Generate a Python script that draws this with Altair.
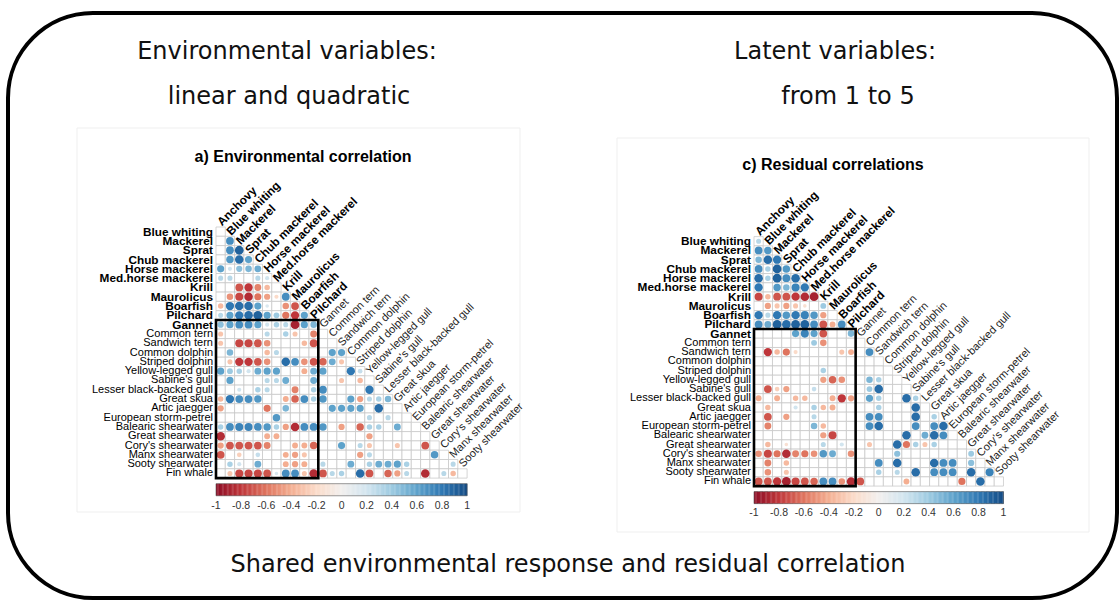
import altair as alt
import pandas as pd

# Species in matrix order; the first 11 are fish / krill (prey), the rest predators
species = [
    "Anchovy", "Blue whiting", "Mackerel", "Sprat", "Chub mackerel",
    "Horse mackerel", "Med.horse mackerel", "Krill", "Maurolicus", "Boarfish",
    "Pilchard", "Gannet", "Common tern", "Sandwich tern", "Common dolphin",
    "Striped dolphin", "Yellow-legged gull", "Sabine's gull",
    "Lesser black-backed gull", "Great skua", "Artic jaegger",
    "European storm-petrel", "Balearic shearwater", "Great shearwater",
    "Cory's shearwater", "Manx shearwater", "Sooty shearwater", "Fin whale",
]
n_prey = 11

# Lower triangle (no diagonal): row r is species[r + 1] against species[0..r]
env_corr = [
    [0],
    [0, 0.7],
    [0, 0.7, 0.9],
    [0, 0.65, 0.85, 0.6],
    [0.6, 0.2, 0.45, 0.5, 0.55],
    [0.3, 0.3, 0, 0, 0.3, 0.2],
    [0, 0, -0.7, -0.8, -0.55, -0.35, 0],
    [0, -0.5, -0.75, -0.85, -0.6, -0.45, -0.2, 0.7],
    [-0.35, 0.8, 0.85, 0.85, 0.6, 0.15, 0, -0.5, -0.7],
    [0.3, 0.6, 0.8, 0.85, 0.9, 0.6, 0.4, -0.6, -0.8, 0.6],
    [0.45, 0.6, 0.7, 0.7, 0.6, 0.2, 0.35, 0.3, -0.9, 0.6, 0.5],
    [-0.3, 0, 0, 0, 0, 0.3, 0, 0.35, -0.3, 0, -0.55, 0],
    [-0.3, 0, -0.75, -0.75, -0.7, -0.5, 0, 0, 0, -0.35, -0.7, 0, 0],
    [0, 0.5, 0, 0, 0, -0.35, 0.3, 0, 0, 0, 0, 0, 0.6, 0.6],
    [0, -0.3, -0.8, -0.8, -0.7, -0.5, 0, 0.85, 0.7, -0.5, -0.7, -0.65, 0.55, -0.3, 0],
    [0.6, 0.4, 0.35, 0.2, 0.55, 0.6, 0.6, 0, 0, -0.4, 0.55, 0.6, 0, 0, 0.8, 0.25],
    [0, 0.6, 0, 0, 0, 0.3, 0.3, 0.55, 0, 0, 0.55, 0, 0, -0.3, 0, -0.35, 0],
    [0, 0, 0.2, 0, 0.35, 0.3, 0, 0, -0.55, 0, 0.35, 0.7, 0, 0, 0, 0, 0.8, 0],
    [-0.35, 0.8, 0.7, 0.7, 0.65, 0, 0, -0.4, -0.65, 0.7, 0.35, 0.65, 0, 0, 0.6, -0.45, 0.3, 0.35, 0.5],
    [-0.45, 0, 0, 0, 0, -0.6, 0, 0.5, 0, 0, 0, 0, 0.6, 0.6, 0.6, 0.6, 0, 0.85, 0, 0],
    [0, 0, 0, 0, 0, 0, 0.65, 0, 0, 0, 0, 0, 0, 0, 0, 0, 0.3, 0, 0.3, 0, 0],
    [0.35, 0.7, 0.75, 0.75, 0.7, 0.65, 0.35, -0.45, -0.85, 0.7, 0.7, 0.65, 0, -0.45, 0, -0.65, 0.35, 0.35, 0, 0.55, 0, 0],
    [-0.85, 0, 0, 0, 0, -0.4, -0.4, 0, 0, 0, 0, 0, 0, 0, 0, 0, -0.45, 0, 0, 0, 0, 0, 0],
    [-0.45, -0.7, -0.7, -0.7, -0.7, -0.55, 0, 0, -0.4, -0.4, -0.65, 0, 0, 0.6, 0, 0.3, -0.3, 0, 0, -0.3, 0, 0, -0.7, 0],
    [-0.7, 0, -0.25, 0, 0.25, 0, 0, -0.4, -0.45, -0.3, 0, 0, 0, 0, 0, -0.45, 0.3, 0, 0, 0, 0, 0, 0, 0.65, 0],
    [0, 0.35, 0.2, 0, 0.55, 0, 0, -0.4, -0.45, -0.4, 0, 0.3, 0, 0, 0.55, 0, 0.35, 0.55, 0.55, 0.6, 0.35, 0, 0, 0, 0, 0.3],
    [0, -0.3, -0.75, -0.75, -0.75, -0.7, 0.15, 0.7, 0.7, -0.3, -0.85, -0.7, 0.3, 0.35, 0, 0.85, -0.7, 0, -0.65, -0.45, 0.3, 0, -0.85, 0, 0.3, -0.35, 0],
]

res_corr = [
    [0.3],
    [0.7, 0.65],
    [0.5, 0.85, 0.8],
    [0.7, 0.35, 0.9, 0.65],
    [0.85, 0.35, 0.9, 0.7, 0.85],
    [0.8, 0, 0.65, 0.5, 0.75, 0.8],
    [-0.75, -0.35, -0.7, -0.7, -0.8, -0.85, -0.9],
    [0, -0.45, -0.3, -0.45, -0.3, -0.15, 0, 0.4],
    [0.8, 0.3, 0.8, 0.65, 0.8, 0.75, 0.65, -0.45, 0],
    [0.7, 0.55, 0.9, 0.85, 0.9, 0.9, 0.7, -0.7, -0.4, 0.7],
    [0, 0, 0, 0, 0.6, 0.75, 0.6, -0.7, 0, 0, 0.5],
    [0, 0, 0, 0, 0, 0, 0.4, -0.5, 0, 0, 0, 0],
    [0, -0.8, -0.35, -0.6, -0.2, 0, 0, 0, 0, -0.3, -0.4, 0, 0.7],
    [0, 0, 0, 0, 0, 0, 0, 0, 0, 0, 0, 0, 0, 0],
    [0, 0, 0, 0, 0, 0, 0, 0.35, 0, 0, 0, 0, 0, 0, 0],
    [0, 0, 0, 0, 0, 0, 0, -0.45, -0.65, -0.5, 0, 0, 0.5, 0.35, 0, 0],
    [0, -0.7, -0.25, -0.45, 0, 0, 0.25, 0, 0, 0, 0, 0, 0.4, 0.85, 0, 0, 0],
    [-0.4, 0, -0.4, 0, -0.35, -0.35, 0, 0, -0.4, -0.8, -0.45, 0, 0.6, 0.35, 0, 0, 0.85, 0.35],
    [0, -0.35, 0, 0, 0.2, 0, 0.35, -0.35, -0.4, 0, 0, 0, 0, 0.35, 0, 0, 0, 0.85, 0],
    [0, -0.7, 0, -0.45, 0, 0, 0.3, 0, 0, 0, 0, 0, 0.7, 0.7, 0, 0, 0, 0.85, 0, 0.35],
    [0, -0.55, 0, 0, 0, 0, 0.5, -0.35, 0, 0, 0, 0, 0.7, 0.85, 0, 0, 0, 0.7, 0, 0.7, 0.85],
    [0, 0, 0, 0, 0, 0, 0, -0.45, -0.75, 0, 0, 0, 0, 0, 0, 0, 0.85, 0, 0.55, 0.85, 0.7, 0],
    [0, -0.35, 0, -0.15, 0, 0, 0, 0.3, 0, 0.2, 0, 0, -0.3, 0, 0, 0.85, -0.6, 0.35, -0.3, 0.35, 0, 0, 0],
    [-0.5, -0.75, -0.6, -0.85, -0.55, -0.6, -0.5, 0.65, 0.55, 0, -0.5, 0, 0, 0, 0, 0.45, 0, 0, 0, 0, 0, 0, 0, 0.4],
    [0, -0.55, 0, -0.35, 0, 0, 0, 0, 0, 0, 0, 0, 0, 0.7, 0, 0.85, 0, 0, 0, 0.85, 0.7, 0.7, 0, 0.45, 0],
    [0, -0.5, 0, -0.3, 0, 0, 0, 0, 0, 0, 0, 0, 0, 0.35, 0, 0.3, 0, 0.85, 0, 0.7, 0.7, 0.7, 0, 0.85, 0, 0.75],
    [-0.7, -0.7, -0.8, -0.9, -0.75, -0.7, -0.65, 0.7, 0.7, -0.5, -0.85, -0.7, 0, 0, 0, 0, -0.4, 0, 0, 0, 0, 0, -0.6, 0, 0.85, 0, 0],
]

legend_ticks = [-1, -0.8, -0.6, -0.4, -0.2, 0, 0.2, 0.4, 0.6, 0.8, 1]
legend_labels = ["-1", "-0.8", "-0.6", "-0.4", "-0.2", "0", "0.2", "0.4", "0.6", "0.8", "1"]

LABEL_FONT = "Liberation Sans"
HEAD_FONT = "DejaVu Sans"
N = len(species) - 1
color_scale = alt.Scale(scheme="redblue", domain=[-1, 1])


def corr_panel(rows, x0, y0, cell):
    xs = alt.Scale(domain=[0, N], range=[x0, x0 + N * cell], nice=False, zero=False)
    ys = alt.Scale(domain=[0, N], range=[y0, y0 + N * cell], nice=False, zero=False)

    def X(f):
        return alt.X(f, type="quantitative", scale=xs, axis=None)

    def Y(f):
        return alt.Y(f, type="quantitative", scale=ys, axis=None)

    recs = []
    for r, vals in enumerate(rows):
        for c, v in enumerate(vals):
            recs.append({"row": r, "col": c, "r": v, "a": abs(v),
                         "x": c, "x2": c + 1, "y": r, "y2": r + 1,
                         "cx": c + 0.5, "cy": r + 0.5})
    cells = pd.DataFrame(recs)

    grid = alt.Chart(cells).mark_rect(
        fill="white", stroke="#c4c4c4", strokeWidth=0.7
    ).encode(x=X("x"), x2="x2", y=Y("y"), y2="y2")

    circles = alt.Chart(cells[cells["r"] != 0]).mark_circle(opacity=1).encode(
        x=X("cx"), y=Y("cy"),
        size=alt.Size("a:Q", scale=alt.Scale(domain=[0, 1], range=[0, 86]), legend=None),
        color=alt.Color("r:Q", scale=color_scale, legend=None),
    )

    # prey columns against predator rows
    block = pd.DataFrame([{"x": 0, "x2": n_prey, "y": n_prey - 1, "y2": N}])
    frame = alt.Chart(block).mark_rect(
        fillOpacity=0, stroke="black", strokeWidth=2.6
    ).encode(x=X("x"), x2="x2", y=Y("y"), y2="y2")

    row_lab = pd.DataFrame([{"name": species[r + 1], "y": r + 0.5, "x": 0,
                             "bold": (r + 1) <= n_prey} for r in range(N)])
    col_lab = pd.DataFrame([{"name": species[c], "x": c + 0.5, "y": c - 0.5,
                             "bold": c < n_prey} for c in range(N)])

    def row_text(bold):
        return alt.Chart(row_lab[row_lab["bold"] == bold]).mark_text(
            align="right", baseline="middle", dx=-3, font=LABEL_FONT,
            fontSize=11.8 if bold else 11, fontWeight="bold" if bold else "normal",
            color="black"
        ).encode(x=X("x"), y=Y("y"), text="name:N")

    def col_text(bold):
        return alt.Chart(col_lab[col_lab["bold"] == bold]).mark_text(
            align="left", baseline="middle", angle=315, dx=-2, font=LABEL_FONT,
            fontSize=11.8 if bold else 11, fontWeight="bold" if bold else "normal",
            color="black" if bold else "#222222"
        ).encode(x=X("x"), y=Y("y"), text="name:N")

    # colour key under the matrix
    steps = [i / 100 - 1 for i in range(200)]
    bar = pd.DataFrame([{"v": v + 0.005, "x": (v + 1) / 2 * N,
                         "x2": (v + 1.012) / 2 * N, "y": 27.6, "y2": 28.9}
                        for v in steps])
    key = alt.Chart(bar).mark_rect().encode(
        x=X("x"), x2="x2", y=Y("y"), y2="y2",
        color=alt.Color("v:Q", scale=color_scale, legend=None),
    )
    key_box = alt.Chart(pd.DataFrame([{"x": 0, "x2": N, "y": 27.6, "y2": 28.9}])).mark_rect(
        fillOpacity=0, stroke="#555555", strokeWidth=0.6
    ).encode(x=X("x"), x2="x2", y=Y("y"), y2="y2")
    ticks = pd.DataFrame({"t": legend_ticks, "lab": legend_labels})
    ticks["x"] = (ticks["t"] + 1) / 2 * N
    ticks["y"] = 29.95
    key_text = alt.Chart(ticks).mark_text(
        font=LABEL_FONT, fontSize=10.5, color="#333333", baseline="middle"
    ).encode(x=X("x"), y=Y("y"), text="lab:N")

    return alt.layer(grid, circles, frame, row_text(True), row_text(False),
                     col_text(True), col_text(False), key, key_box, key_text)


one = alt.Data(values=[{}])


def label(txt, x, y, size, font=HEAD_FONT, weight="normal", color="#111111"):
    return alt.Chart(one).mark_text(
        text=txt, font=font, fontSize=size, fontWeight=weight, color=color,
        align="center", baseline="middle"
    ).encode(x=alt.value(x), y=alt.value(y))


def box(x1, x2, y1, y2, stroke, width, radius=0):
    return alt.Chart(one).mark_rect(
        fillOpacity=0, stroke=stroke, strokeWidth=width, cornerRadius=radius
    ).encode(x=alt.value(x1), x2=alt.value(x2), y=alt.value(y1), y2=alt.value(y2))


panel_a = corr_panel(env_corr, 216, 227, 9.3)
panel_c = corr_panel(res_corr, 754, 236.6, 9.24)

chart = alt.layer(
    box(77, 520, 128, 512, "#efefef", 1),
    box(617, 1089, 138, 532, "#efefef", 1),
    box(8, 1117, 13, 598, "black", 4, 85),
    label("Environmental variables:", 287, 52, 24),
    label("linear and quadratic", 289, 97, 24),
    label("Latent variables:", 835, 52, 24),
    label("from 1 to 5", 848, 97, 24),
    label("Shared environmental response and residual correlation", 568, 565, 24),
    label("a) Environmental correlation", 303, 157, 16, LABEL_FONT, "bold", "black"),
    label("c) Residual correlations", 833, 165, 16, LABEL_FONT, "bold", "black"),
    panel_a,
    panel_c,
).resolve_scale(
    x="independent", y="independent"
).properties(
    width=1120, height=601, padding=0,
    autosize=alt.AutoSizeParams(type="none"),
    background="white",
).configure_view(stroke=None)

chart.save("out.html", embed_options={"renderer": "svg", "actions": False})
